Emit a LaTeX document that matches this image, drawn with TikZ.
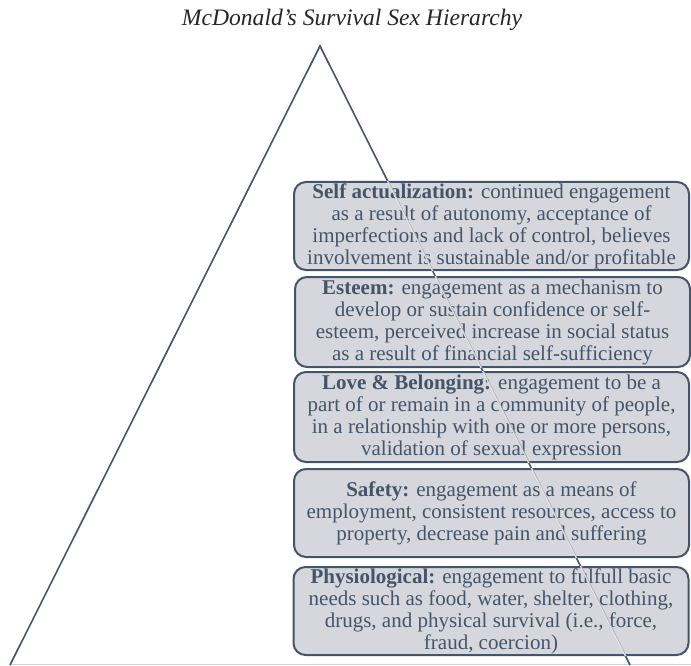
\documentclass[tikz,border=0pt]{standalone}
\usepackage{fontspec}
\setmainfont{Liberation Serif}
\definecolor{slate}{HTML}{44546A}
\definecolor{boxfill}{HTML}{D5D7DC}
\definecolor{edgelight}{HTML}{E2E3E7}
\begin{document}
\begin{tikzpicture}[x=1pt,y=-1pt,
  level/.style={draw=slate, line width=2pt, fill=boxfill, rounded corners=12pt,
    minimum width=395pt, minimum height=88pt, align=center, text=slate,
    inner sep=0pt, font=\fontsize{21}{22}\selectfont},
  edge/.style={draw=slate, line width=1.6pt}]
\useasboundingbox (0,0) rectangle (691,666);
% title
\node[font=\itshape\fontsize{23.6}{24}\selectfont, text={black!85}] (title) at (352,20) {McDonald’s Survival Sex Hierarchy};
% pyramid outline
\coordinate (apex) at (320,46);
\coordinate (bl) at (10,665);
\coordinate (br) at (630,665);
\draw[black!18, line width=1pt] (10,664) -- (691,664);
\draw[edge] (bl) -- (apex) -- (br);
% levels
\node[level] (self) at (491.5,226) {\textbf{Self actualization:} continued engagement\\
as a result of autonomy, acceptance of\\
imperfections and lack of control, believes\\
involvement is sustainable and/or profitable};
\node[level, minimum height=90pt] (esteem) at (492.5,322) {\textbf{Esteem:} engagement as a mechanism to\\
develop or sustain confidence or self-\\
esteem, perceived increase in social status\\
as a result of financial self-sufficiency};
\node[level, minimum height=90pt] (love) at (491.5,417) {\textbf{Love \& Belonging:} engagement to be a\\
part of or remain in a community of people,\\
in a relationship with one or more persons,\\
validation of sexual expression};
\node[level] (safety) at (491.5,513) {\textbf{Safety:} engagement as a means of\\
employment, consistent resources, access to\\
property, decrease pain and suffering};
\node[level] (phys) at (491,611) {\textbf{Physiological:} engagement to fulfull basic\\
needs such as food, water, shelter, clothing,\\
drugs, and physical survival (i.e., force,\\
fraud, coercion)};
% pyramid edge faintly visible through the levels
\begin{scope}
\clip (self.south west) rectangle (self.north east)
      (esteem.south west) rectangle (esteem.north east)
      (love.south west) rectangle (love.north east)
      (safety.south west) rectangle (safety.north east)
      (phys.south west) rectangle (phys.north east);
\draw[edgelight, line width=1.4pt] (apex) -- (br);
\draw[black!35, line width=0.5pt, transform canvas={xshift=0.8pt}] (apex) -- (br);
\end{scope}
\end{tikzpicture}
\end{document}
